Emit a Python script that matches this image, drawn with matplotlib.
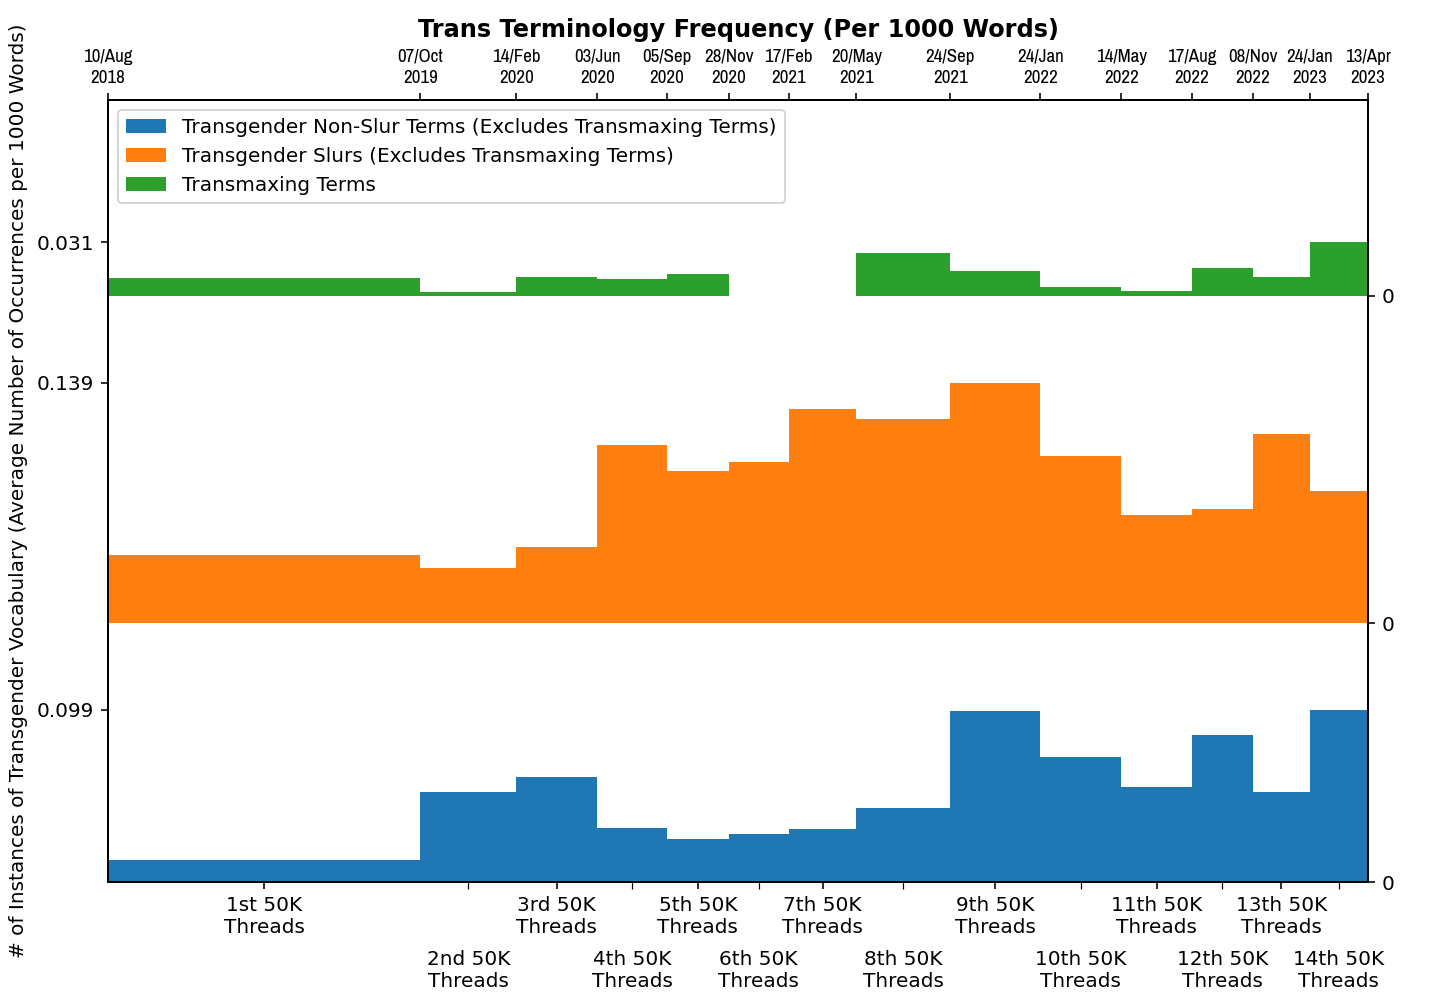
import pandas as pd
import matplotlib
matplotlib.use('Agg')
import matplotlib.pyplot as plt
import matplotlib.dates as mdates
from matplotlib import font_manager

# bin edges (dates) and values per 1000 words
edges = ['2018-08-10', '2019-10-07', '2020-02-14', '2020-06-03', '2020-09-05',
         '2020-11-28', '2021-02-17', '2021-05-20', '2021-09-24', '2022-01-24',
         '2022-05-14', '2022-08-17', '2022-11-08', '2023-01-24', '2023-04-13']
bin_labels = ['1st', '2nd', '3rd', '4th', '5th', '6th', '7th',
              '8th', '9th', '10th', '11th', '12th', '13th', '14th']

non_slur = [0.0126, 0.0519, 0.0606, 0.0311, 0.0247, 0.0276, 0.0305,
            0.0427, 0.0988, 0.0722, 0.0548, 0.0849, 0.0519, 0.0994]
slurs = [0.0392, 0.0317, 0.0438, 0.1029, 0.0880, 0.0930, 0.1237,
         0.1179, 0.1388, 0.0965, 0.0624, 0.0660, 0.1093, 0.0763]
transmaxing = [0.0102, 0.0023, 0.0108, 0.0097, 0.0126, 0.0, 0.0,
               0.0247, 0.0143, 0.0050, 0.0027, 0.0160, 0.0108, 0.0311]

series = [
    ('Transgender Non-Slur Terms (Excludes Transmaxing Terms)', non_slur, '#1f77b4'),
    ('Transgender Slurs (Excludes Transmaxing Terms)', slurs, '#ff7f0e'),
    ('Transmaxing Terms', transmaxing, '#2ca02c'),
]
gap = 0.05

# narrow font for the date labels (Arial Narrow look-alike)
installed = {f.name for f in font_manager.fontManager.ttflist}
narrow = 'DejaVu Sans'
for name in ['Liberation Sans Narrow', 'Arial Narrow', 'Archivo Narrow', 'PT Sans Narrow', 'Pragati Narrow']:
    if name in installed:
        narrow = name
        break

x_edges = mdates.date2num(pd.to_datetime(edges))
widths = x_edges[1:] - x_edges[:-1]
centers = x_edges[:-1] + widths / 2

fig = plt.figure(figsize=(10, 7), dpi=144)
ax = fig.add_axes([0.075, 0.125, 0.875, 0.7758])

offset = 0
offsets = []
tops = []
for label, vals, color in series:
    ax.bar(x_edges[:-1], vals, width=widths, bottom=offset, align='edge',
           color=color, linewidth=0, label=label)
    offsets.append(offset)
    tops.append(offset + max(vals))
    offset = offset + max(vals) + gap

ax.set_xlim(x_edges[0], x_edges[-1])
ax.set_ylim(0, tops[-1] + 0.082)

# left ticks: max of each band
ax.set_yticks(tops)
ax.set_yticklabels(['%.3f' % max(v) for _, v, _ in series])
ax.set_ylabel('# of Instances of Transgender Vocabulary (Average Number of Occurrences per 1000 Words)')

# right ticks: zero baselines
ax2 = ax.twinx()
ax2.set_ylim(ax.get_ylim())
ax2.set_yticks(offsets)
ax2.set_yticklabels(['0'] * len(offsets))

# bottom ticks: alternating rows of bin labels
labs = [b + ' 50K\nThreads' for b in bin_labels]
ax.set_xticks(centers[0::2])
ax.set_xticklabels(labs[0::2])
ax.set_xticks(centers[1::2], minor=True)
ax.set_xticklabels(labs[1::2], minor=True)
ax.tick_params(axis='x', which='minor', length=3.5, pad=30.5)

# top ticks: bin edge dates
ax3 = ax.twiny()
ax3.set_xlim(ax.get_xlim())
ax3.set_xticks(x_edges)
ax3.set_xticklabels([d.strftime('%d/%b\n%Y') for d in pd.to_datetime(edges)],
                    family=narrow, fontsize=9.5, linespacing=1.4)

ax.legend(loc='upper left')
ax.set_title('Trans Terminology Frequency (Per 1000 Words)', fontweight='bold', fontsize=12)

plt.savefig('out.png', dpi=144)
